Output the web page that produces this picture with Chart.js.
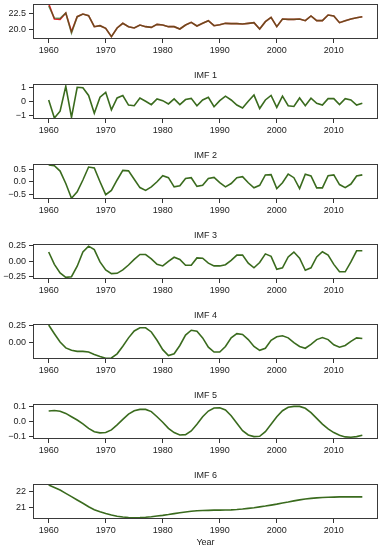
<!DOCTYPE html>
<html><head><meta charset="utf-8">
<script src="https://cdn.jsdelivr.net/npm/chart.js@4/dist/chart.umd.min.js"></script>
<style>
html,body{margin:0;padding:0;background:#fff;}
#wrap{position:relative;width:381px;height:550px;overflow:hidden;background:#fff;}
#wrap canvas{position:absolute;left:0;}
</style></head><body><div id="wrap"></div>
<script>
const years = [1960,1961,1962,1963,1964,1965,1966,1967,1968,1969,1970,1971,1972,1973,1974,1975,1976,1977,1978,1979,1980,1981,1982,1983,1984,1985,1986,1987,1988,1989,1990,1991,1992,1993,1994,1995,1996,1997,1998,1999,2000,2001,2002,2003,2004,2005,2006,2007,2008,2009,2010,2011,2012,2013,2014,2015];
const xTicks = [1960,1970,1980,1990,2000,2010];

const original = [23.95,21.65,21.6,22.55,19.75,22.0,22.4,22.15,20.5,20.65,20.25,19.0,20.3,21.0,20.5,20.3,20.75,20.5,20.4,20.85,20.75,20.5,20.5,20.15,20.75,21.15,20.6,21.0,21.4,20.65,20.8,21.0,20.95,20.95,20.9,21.0,21.1,20.15,21.25,21.9,20.5,21.65,21.6,21.6,21.65,21.4,22.1,21.4,21.4,22.25,22.1,21.1,21.4,21.65,21.85,22.0];
const reconstructed = [23.6,21.8,21.75,22.55,19.55,22.0,22.4,22.15,20.5,20.65,20.25,19.0,20.3,21.0,20.5,20.3,20.75,20.5,20.4,20.85,20.75,20.5,20.5,20.15,20.75,21.15,20.6,21.0,21.4,20.65,20.8,21.0,20.95,20.95,20.9,21.0,21.1,20.15,21.25,21.9,20.5,21.65,21.6,21.6,21.65,21.4,22.1,21.4,21.4,22.25,22.1,21.1,21.4,21.65,21.85,22.0];
const imf1 = [0.12,-1.2,-0.7,1.12,-1.15,1.05,1.02,0.45,-0.85,0.32,0.68,-0.6,0.27,0.45,-0.25,-0.3,0.27,0.03,-0.22,0.2,0.07,-0.17,0.2,-0.22,0.15,0.24,-0.3,0.12,0.32,-0.37,0.07,0.4,0.12,-0.25,-0.47,0.03,0.48,-0.5,0.12,0.45,-0.42,0.4,-0.3,-0.35,0.27,-0.3,0.25,-0.12,-0.25,0.22,0.22,-0.22,0.22,0.12,-0.25,-0.12];
const imf2 = [0.66,0.63,0.42,-0.07,-0.65,-0.4,0.07,0.58,0.54,0.0,-0.51,-0.34,0.07,0.45,0.43,0.1,-0.23,-0.34,-0.2,0.0,0.24,0.16,-0.2,-0.16,0.13,0.16,-0.18,-0.14,0.13,0.17,-0.03,-0.2,-0.07,0.16,0.2,-0.04,-0.24,-0.14,0.27,0.28,-0.27,-0.04,0.3,0.16,-0.27,0.3,0.23,-0.24,-0.24,0.24,0.27,-0.11,-0.23,-0.09,0.23,0.27];
const imf3 = [0.15,-0.05,-0.19,-0.26,-0.25,-0.08,0.15,0.245,0.19,-0.01,-0.14,-0.2,-0.195,-0.14,-0.06,0.03,0.11,0.11,0.04,-0.05,-0.075,0.0,0.065,0.03,-0.065,-0.065,0.055,0.05,-0.03,-0.075,-0.075,-0.055,0.015,0.1,0.1,-0.03,-0.105,-0.02,0.12,0.08,-0.13,-0.105,0.07,0.15,0.05,-0.145,-0.105,0.07,0.155,0.1,-0.05,-0.17,-0.17,-0.01,0.17,0.17];
const imf4 = [0.255,0.13,0.01,-0.075,-0.11,-0.125,-0.125,-0.135,-0.17,-0.2,-0.225,-0.22,-0.16,-0.05,0.07,0.17,0.215,0.215,0.155,0.035,-0.1,-0.185,-0.16,-0.04,0.11,0.18,0.165,0.07,-0.065,-0.135,-0.135,-0.055,0.07,0.13,0.12,0.045,-0.055,-0.11,-0.08,0.035,0.085,0.1,0.07,0.0,-0.055,-0.08,-0.025,0.045,0.075,0.045,-0.03,-0.065,-0.04,0.02,0.07,0.06];
const imf5 = [0.071,0.075,0.07,0.055,0.033,0.011,-0.015,-0.045,-0.067,-0.075,-0.073,-0.055,-0.022,0.015,0.05,0.073,0.082,0.082,0.067,0.033,-0.004,-0.045,-0.073,-0.089,-0.087,-0.062,-0.018,0.033,0.071,0.091,0.093,0.078,0.04,-0.011,-0.06,-0.089,-0.1,-0.098,-0.067,-0.018,0.033,0.073,0.096,0.102,0.102,0.089,0.06,0.022,-0.016,-0.049,-0.073,-0.091,-0.102,-0.104,-0.1,-0.091];
const imf6 = [22.37,22.22,22.06,21.86,21.66,21.45,21.25,21.04,20.86,20.73,20.62,20.53,20.46,20.41,20.38,20.37,20.38,20.40,20.43,20.47,20.51,20.56,20.62,20.67,20.72,20.76,20.79,20.81,20.82,20.83,20.83,20.84,20.85,20.87,20.90,20.94,20.98,21.03,21.08,21.14,21.20,21.27,21.33,21.40,21.46,21.51,21.55,21.58,21.60,21.62,21.63,21.64,21.64,21.64,21.64,21.64];

const yTicks0 = [20.0,22.5];
const yTicks1 = [-1,0,1];
const yTicks2 = [-0.5,0.0,0.5];
const yTicks3 = [-0.25,0.0,0.25];
const yTicks4 = [0.0,0.25];
const yTicks5 = [-0.1,0.0,0.1];
const yTicks6 = [21,22];

const titles = ['', 'IMF 1','IMF 2','IMF 3','IMF 4','IMF 5','IMF 6'];

const FONT = '"Liberation Sans", Arial, sans-serif';
const GREEN = '#3a6b1e';
const RED = '#e8202a';
const GREEN_A = 'rgba(30,100,20,0.6)';

const toXY = arr => arr.map((v,i)=>({x:years[i], y:v}));

const panels = [
  {top:4, series:[{d:original,c:RED,o:2},{d:reconstructed,c:GREEN_A,o:1}], min:18.65, max:23.9, ticks:yTicks0, dec:1},
  {top:83.5, series:[{d:imf1,c:GREEN,o:1}], min:-1.27, max:1.29, ticks:yTicks1, dec:0},
  {top:164, series:[{d:imf2,c:GREEN,o:1}], min:-0.68, max:0.70, ticks:yTicks2, dec:1},
  {top:243.5, series:[{d:imf3,c:GREEN,o:1}], min:-0.287, max:0.28, ticks:yTicks3, dec:2},
  {top:324, series:[{d:imf4,c:GREEN,o:1}], min:-0.235, max:0.27, ticks:yTicks4, dec:2},
  {top:404, series:[{d:imf5,c:GREEN,o:1}], min:-0.116, max:0.118, ticks:yTicks5, dec:1},
  {top:484, series:[{d:imf6,c:GREEN,o:1}], min:20.29, max:22.43, ticks:yTicks6, dec:0, xlabel:'Year'}
];

const framePlugin = {
  id:'frame',
  afterDraw(chart, args, opts){
    const {ctx, chartArea:a} = chart;
    ctx.save();
    ctx.strokeStyle = '#3a3a3a';
    ctx.lineWidth = 1;
    ctx.strokeRect(Math.round(a.left)+0.5, Math.round(a.top)+0.5, Math.round(a.right)-Math.round(a.left)-1, Math.round(a.bottom)-Math.round(a.top)-1);
    ctx.fillStyle = '#222';
    ctx.font = '9px ' + FONT;
    ctx.textAlign = 'center';
    ctx.textBaseline = 'middle';
    if (opts.title) ctx.fillText(opts.title, (a.left+a.right)/2, a.top-8);
    if (opts.xlabel) ctx.fillText(opts.xlabel, (a.left+a.right)/2, a.bottom+24);
    ctx.restore();
  }
};

const wrap = document.getElementById('wrap');
const PADTOP = 20, AH = 35, XH = 32, CH = PADTOP + AH + XH;

panels.forEach((p, idx) => {
  const cv = document.createElement('canvas');
  cv.width = 381; cv.height = CH;
  cv.style.width = '381px'; cv.style.height = CH + 'px';
  cv.style.top = (p.top - PADTOP) + 'px';
  wrap.appendChild(cv);
  const fmt = v => {
    const s = Math.abs(v).toFixed(p.dec);
    return (v < 0 ? '\u2212' : '') + s;
  };
  new Chart(cv.getContext('2d'), {
    type:'line',
    data:{datasets:p.series.map(s=>({
      data: toXY(s.d), borderColor:s.c, borderWidth:1.6, pointRadius:0, tension:0, fill:false, order:s.o
    }))},
    options:{
      responsive:false, animation:false, devicePixelRatio:1,
      layout:{padding:{top:PADTOP, right:3, left:0, bottom:0}},
      plugins:{legend:{display:false}, tooltip:{enabled:false}, frame:{title:titles[idx], xlabel:p.xlabel||''}},
      scales:{
        x:{type:'linear', min:1957.25, max:2017.75,
          afterBuildTicks: s => { s.ticks = xTicks.map(v=>({value:v})); },
          afterFit: s => { s.height = XH; },
          grid:{drawOnChartArea:false, drawTicks:true, tickLength:4, color:'#333', tickWidth:1},
          border:{display:false},
          ticks:{font:{family:FONT, size:9}, color:'#222', padding:2, maxRotation:0, callback:v=>String(v)}
        },
        y:{type:'linear', min:p.min, max:p.max,
          afterBuildTicks: s => { s.ticks = p.ticks.map(v=>({value:v})); },
          afterFit: s => { s.width = 33; },
          grid:{drawOnChartArea:false, drawTicks:true, tickLength:4, color:'#333', tickWidth:1},
          border:{display:false},
          ticks:{font:{family:FONT, size:9}, color:'#222', padding:3, callback:v=>fmt(v)}
        }
      }
    },
    plugins:[framePlugin]
  });
});
</script></body></html>
